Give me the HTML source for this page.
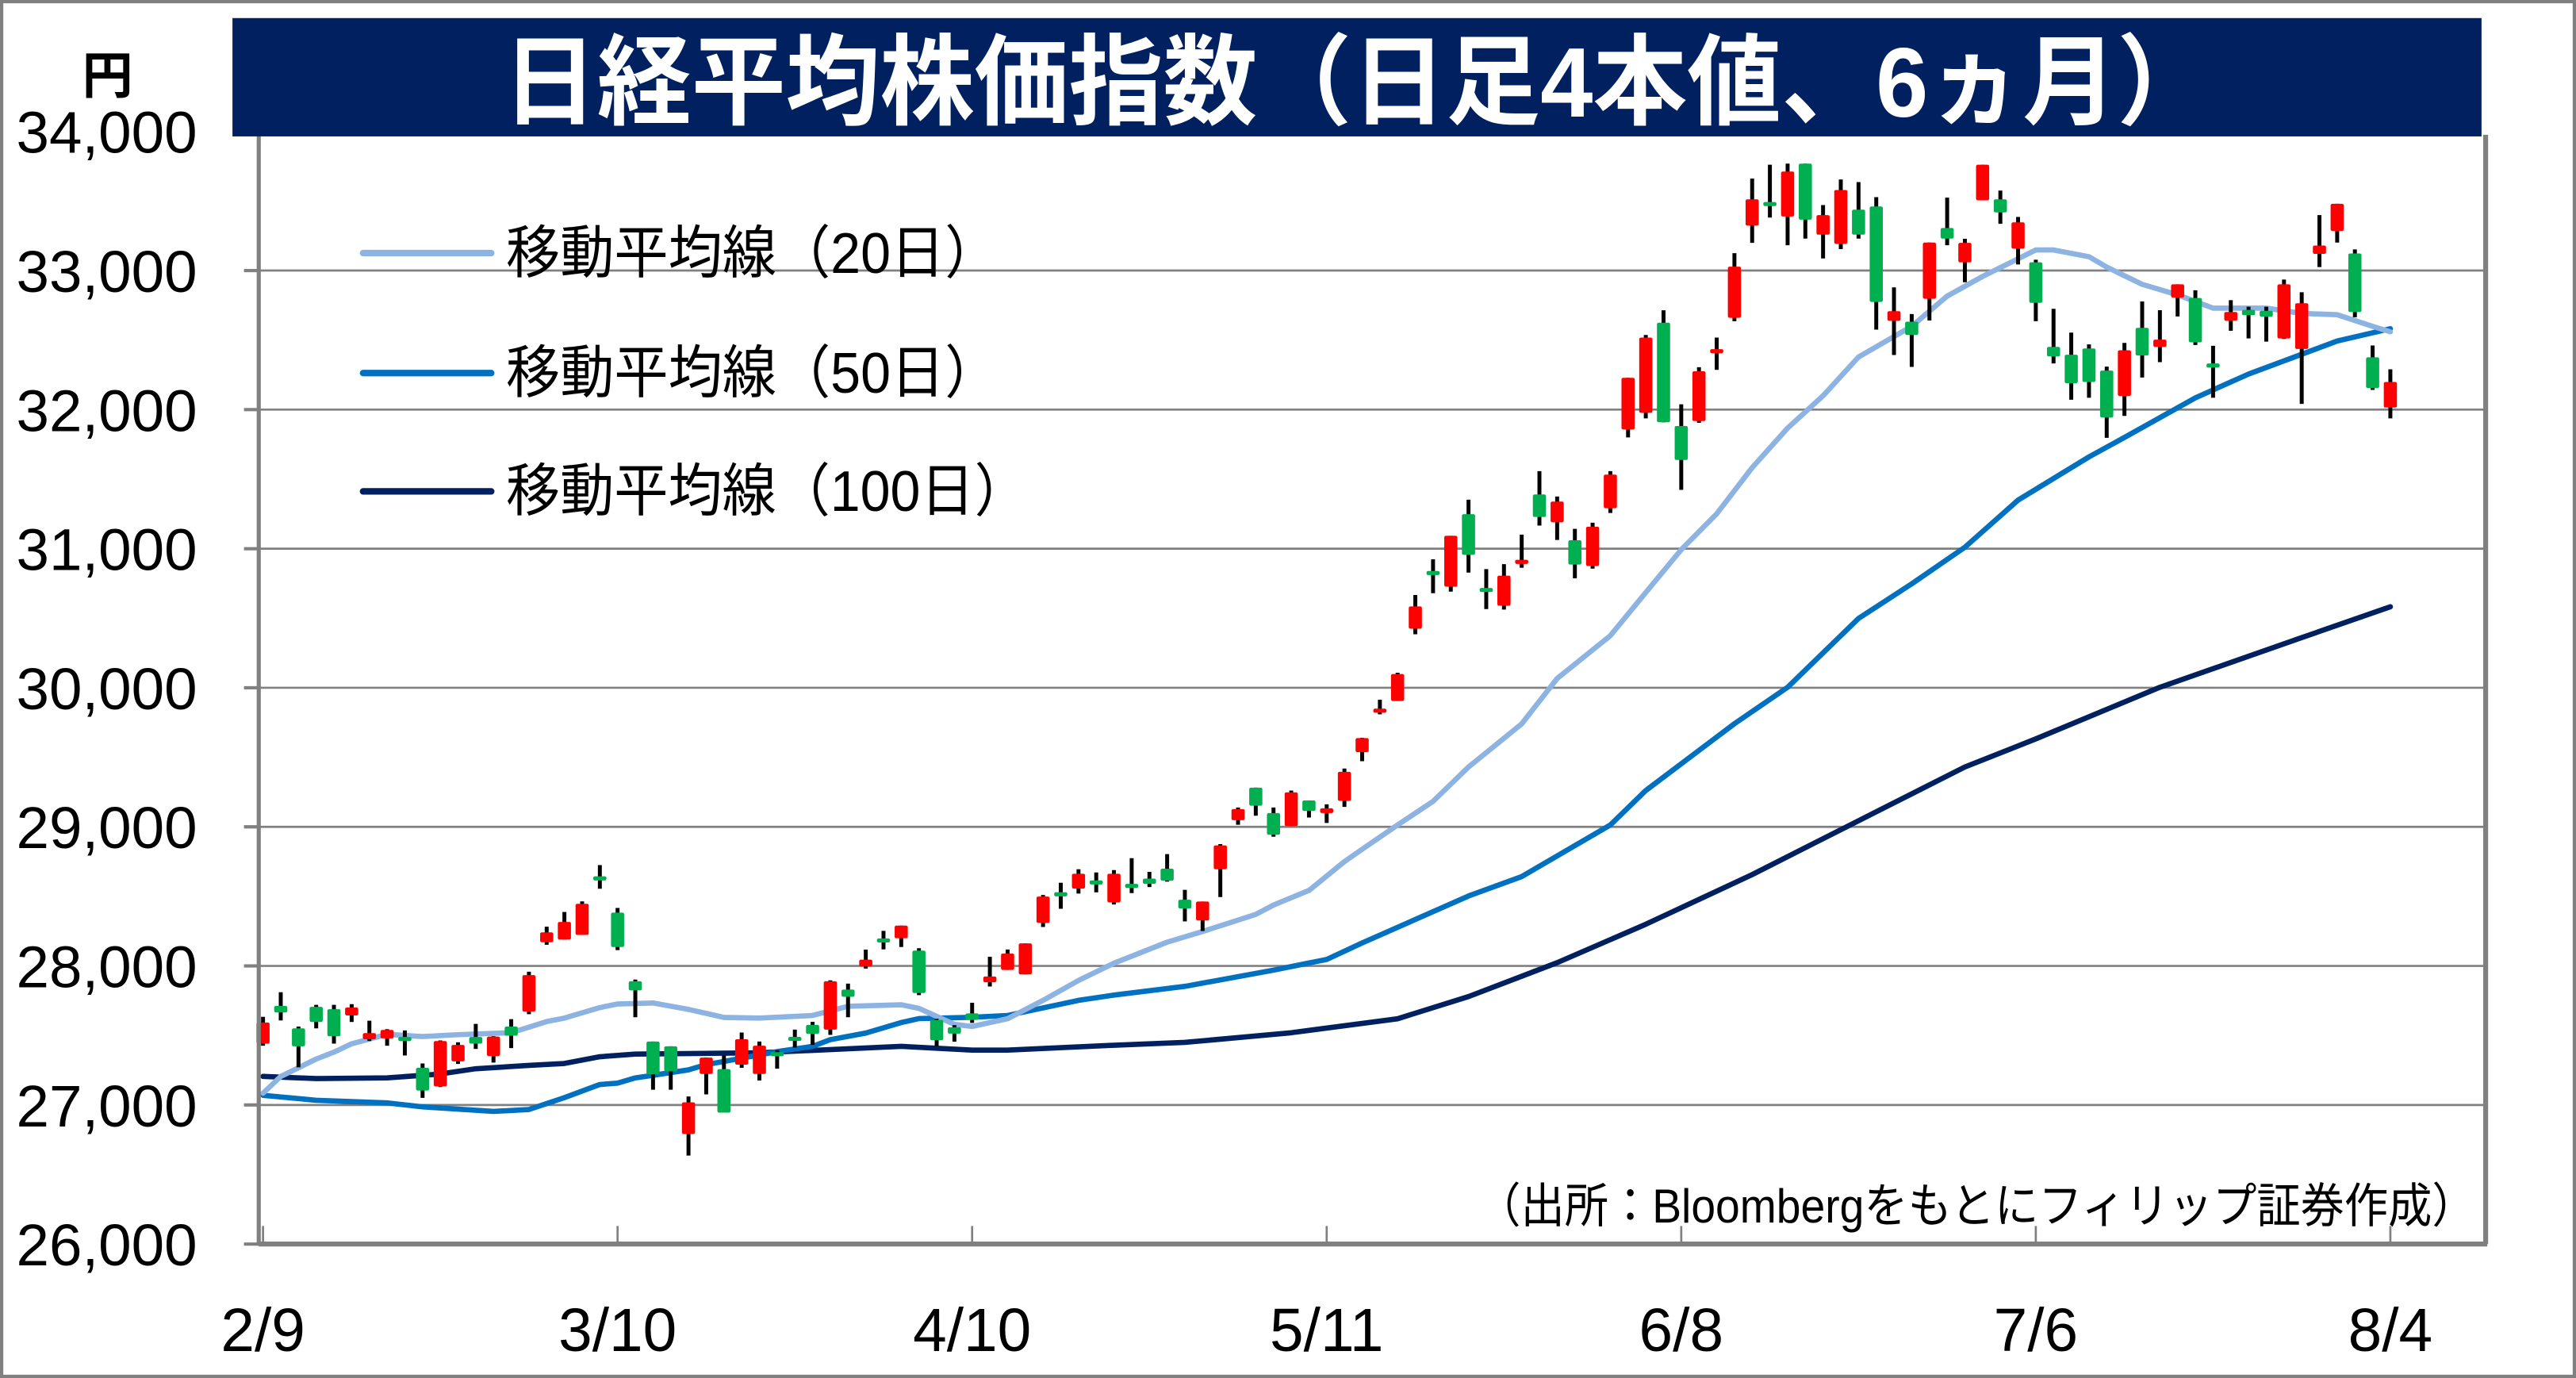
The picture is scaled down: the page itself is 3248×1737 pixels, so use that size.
<!DOCTYPE html>
<html><head><meta charset="utf-8">
<style>
html,body{margin:0;padding:0;background:#fff;}
svg{display:block;}
text{font-family:"Liberation Sans","Noto Sans CJK JP",sans-serif;}
</style></head>
<body>
<svg id="chart" xmlns="http://www.w3.org/2000/svg" width="3248" height="1737" viewBox="0 0 1568 838.5" preserveAspectRatio="none">
  <rect x="1" y="1" width="1566" height="836.5" fill="#fff" stroke="#808080" stroke-width="2"/>
  <g id="grid"></g>
  <g id="ma"></g>
  <g id="candles"></g>
  <g id="axes"></g>
  <rect x="141.5" y="11" width="1369" height="72" fill="#002060"/>
  <text x="306" y="71" font-size="60" font-weight="bold" fill="#fff" textLength="1040" lengthAdjust="spacingAndGlyphs">日経平均株価指数（日足4本値、6ヵ月）</text>
  <text x="50" y="57" font-size="31" font-weight="bold" fill="#000">円</text>
  <g>
    <line x1="221" y1="154" x2="299" y2="154" stroke="#8DB3E2" stroke-width="4" stroke-linecap="round"/>
    <text x="308" y="166" font-size="35" textLength="300" lengthAdjust="spacingAndGlyphs">移動平均線（20日）</text>
    <line x1="221" y1="227" x2="299" y2="227" stroke="#0070C0" stroke-width="4" stroke-linecap="round"/>
    <text x="308" y="239" font-size="35" textLength="300" lengthAdjust="spacingAndGlyphs">移動平均線（50日）</text>
    <line x1="221" y1="299" x2="299" y2="299" stroke="#002060" stroke-width="4" stroke-linecap="round"/>
    <text x="308" y="311" font-size="35" textLength="318" lengthAdjust="spacingAndGlyphs">移動平均線（100日）</text>
  </g>
  <text x="899" y="744" font-size="29" textLength="608" lengthAdjust="spacingAndGlyphs">（出所：Bloombergをもとにフィリップ証券作成）</text>
</svg>
<script>
const yTicks = [26000, 27000, 28000, 29000, 30000, 31000, 32000, 33000, 34000];
const yTickLabels = ["26,000","27,000","28,000","29,000","30,000","31,000","32,000","33,000","34,000"];
const xTickIdx = [0, 20, 40, 60, 80, 100, 120];
const xTickLabels = ["2/9","3/10","4/10","5/11","6/8","7/6","8/4"];
const opens = [27441,27712,27551,27706,27689,27644,27473,27479,27489,27267,27134,27314,27489,27352,27564,27672,28170,28189,28223,28644,28383,27890,27456,27422,26792,27223,27258,27290,27223,27380,27490,27576,27542,27830,27996,28198,28199,28110,27612,27559,27659,27883,27971,27939,28310,28530,28556,28615,28457,28590,28628,28699,28476,28327,28695,29048,29282,29099,29006,29190,29099,29187,29537,29835,29905,30425,30840,30727,31248,30718,30590,30905,31390,31190,31061,30876,31291,31857,31977,32625,31882,31918,32415,32660,33323,33493,33389,33769,33258,33192,33438,33461,32639,32632,32797,33306,33059,33505,33512,33158,33059,32451,32395,32440,32281,32098,32588,32451,32806,32803,32332,32639,32717,32711,32512,32436,33120,33285,33123,32376,32015];
const highs = [27634,27811,27564,27720,27720,27725,27606,27545,27536,27299,27464,27451,27583,27495,27617,27958,28282,28388,28464,28725,28417,27902,27456,27422,27061,27341,27356,27521,27456,27394,27542,27598,27896,27873,28117,28252,28290,28127,27620,27574,27735,28066,28118,28162,28510,28598,28695,28672,28689,28775,28676,28804,28547,28463,28876,29139,29282,29139,29261,29190,29162,29419,29640,29914,30108,30667,30924,31093,31352,30853,30889,31101,31558,31375,31143,31187,31558,32229,32537,32714,32038,32305,32518,33125,33661,33761,33769,33769,33471,33655,33636,33528,32879,32687,33201,33524,33228,33761,33575,33385,33078,32725,32554,32469,32309,32480,32778,32715,32901,32858,32459,32787,32740,32740,32935,32844,33399,33480,33152,32461,32290];
const lows = [27426,27608,27271,27551,27441,27597,27460,27426,27356,27051,27129,27295,27403,27305,27409,27653,28152,28189,28223,28555,28114,27631,27110,27110,26636,27076,26945,27267,27176,27261,27413,27432,27504,27631,27981,28119,28136,27790,27422,27455,27590,27852,27971,27939,28280,28411,28520,28529,28442,28524,28567,28606,28320,28251,28495,29015,29080,28929,29006,29067,29028,29143,29472,29809,29905,30385,30680,30691,30828,30566,30562,30863,31166,31063,30787,30857,31257,31800,31937,31909,31423,31905,32286,32636,33199,33381,33182,33230,33087,33154,33230,32575,32393,32307,32641,33182,32916,33505,33336,33044,32636,32332,32071,32085,31797,31955,32231,32341,32670,32465,32085,32567,32512,32489,32508,32041,33025,33201,32664,32142,31937];
const closes = [27593,27665,27422,27597,27494,27701,27517,27540,27470,27104,27460,27432,27441,27492,27498,27934,28241,28316,28447,28616,28136,27824,27220,27242,27019,27341,26945,27473,27426,27365,27480,27511,27890,27778,28045,28190,28290,27805,27466,27513,27612,27924,28089,28162,28499,28515,28663,28600,28663,28562,28590,28613,28413,28463,28867,29128,29152,28943,29248,29114,29133,29396,29638,29850,30099,30585,30820,31093,30956,30690,30806,30920,31228,31339,30886,31158,31533,32229,32518,31909,31638,32276,32435,33028,33512,33480,33712,33366,33399,33579,33258,32774,32708,32537,33201,33230,33199,33761,33418,33347,32768,32383,32190,32199,31943,32427,32389,32503,32901,32484,32313,32702,32679,32668,32901,32765,33180,33480,32702,32155,32199];
const ma20Days = [0,1,3,4,5,7,9,11,14,16,17,19,20,21,22,24,26,28,31,33,36,37,39,40,42,44,46,48,51,53,56,57,59,61,62,64,66,68,71,73,76,78,80,82,84,86,88,90,93,95,97,100,101,103,104,106,108,110,113,115,117,119,120];
const ma20Vals = [27085,27205,27330,27380,27440,27508,27492,27505,27520,27600,27625,27700,27727,27730,27733,27687,27630,27625,27644,27710,27720,27695,27580,27564,27620,27752,27895,28019,28171,28247,28370,28438,28543,28750,28838,29013,29183,29431,29740,30066,30375,30685,30994,31250,31582,31867,32100,32379,32598,32816,32958,33148,33148,33100,33025,32901,32825,32730,32730,32692,32683,32598,32560];
const ma50Days = [0,3,7,9,13,15,17,19,20,21,22,24,25,27,29,31,32,34,36,37,40,42,46,48,52,57,60,62,68,71,76,78,83,86,90,93,96,99,103,105,109,112,115,117,120];
const ma50Vals = [27070,27034,27015,26987,26954,26968,27053,27148,27157,27195,27214,27252,27290,27337,27384,27422,27470,27517,27593,27621,27631,27644,27752,27790,27853,27970,28047,28165,28503,28642,29013,29261,29741,30004,30499,30747,31010,31350,31660,31800,32085,32256,32398,32493,32582];
const ma100Days = [0,3,7,10,12,15,17,19,21,28,36,40,42,48,52,58,64,68,73,78,84,90,96,100,107,115,120];
const ma100Vals = [27205,27190,27195,27223,27261,27284,27299,27347,27366,27375,27422,27394,27394,27430,27450,27520,27620,27780,28023,28300,28657,29044,29431,29632,30004,30360,30583];

const NS = "http://www.w3.org/2000/svg";
const PL = 157.5, PR = 1513, PT = 80, PB = 757;
const X0 = 160.1, XN = 1455, NDAYS = 120;
function xScale(i){ return X0 + i * (XN - X0) / NDAYS; }
function yScale(v){ return PB - (v - 26000) * (PB - PT) / 8000; }
function mk(tag, attrs, parent){
  const el = document.createElementNS(NS, tag);
  for (const k in attrs) el.setAttribute(k, attrs[k]);
  parent.appendChild(el);
  return el;
}
const grid = document.getElementById('grid');
const axes = document.getElementById('axes');
yTicks.forEach((v, k) => {
  const y = yScale(v);
  if (v > 26000 && v < 34000) {
    const g = mk('line', {x1: PL, x2: PR, y1: y, y2: y, stroke: '#808080', 'stroke-width': 1.3}, grid);
    
    
  }
  const t = mk('line', {x1: PL - 9, x2: PL, y1: y, y2: y, stroke: '#808080', 'stroke-width': 2}, axes);
  
  
  const lb = mk('text', {x: 120, y: y + 13, 'font-size': 36, 'text-anchor': 'end', fill: '#000'}, axes);
  lb.textContent = yTickLabels[k];
  
  
});
const yAxis = mk('line', {x1: PL, x2: PL, y1: PT, y2: PB + 1, stroke: '#808080', 'stroke-width': 2.5}, axes);


const xAxis = mk('line', {x1: PL, x2: PR + 1, y1: PB, y2: PB, stroke: '#808080', 'stroke-width': 3}, axes);


const rBorder = mk('line', {x1: PR, x2: PR, y1: 82, y2: PB, stroke: '#808080', 'stroke-width': 3}, axes);


xTickIdx.forEach((idx, k) => {
  const x = xScale(idx);
  const t = mk('line', {x1: x, x2: x, y1: PB - 11, y2: PB, stroke: '#808080', 'stroke-width': 1.3}, axes);
  
  
  const lb = mk('text', {x: x, y: 822, 'font-size': 37, 'text-anchor': 'middle', fill: '#000'}, axes);
  lb.textContent = xTickLabels[k];
  
  
});
const ma = document.getElementById('ma');
function drawMA(days, vals, color, name){
  const pts = days.map((d, k) => xScale(d).toFixed(1) + ',' + yScale(vals[k]).toFixed(1)).join(' ');
  const p = mk('polyline', {points: pts, fill: 'none', stroke: color, 'stroke-width': 3.2, 'stroke-linejoin': 'round', 'stroke-linecap': 'round'}, ma);
  
  
}
drawMA(ma100Days, ma100Vals, '#002060', 'ma100-line');
drawMA(ma50Days, ma50Vals, '#0070C0', 'ma50-line');
drawMA(ma20Days, ma20Vals, '#8DB3E2', 'ma20-line');
const cg = document.getElementById('candles');
opens.forEach((o, i) => {
  const c = closes[i], x = xScale(i);
  const g = mk('g', {}, cg);
  
  
  const w = mk('line', {x1: x, x2: x, y1: yScale(highs[i]), y2: yScale(lows[i]), stroke: '#000', 'stroke-width': 2.4}, g);
  
  
  const top = yScale(Math.max(o, c)), bot = yScale(Math.min(o, c));
  const b = mk('rect', {x: x - 4, y: top, width: 8, height: Math.max(bot - top, 2.5), rx: 1, fill: c >= o ? '#FF0000' : '#00B050'}, g);
  
  
});
</script>
</body></html>
